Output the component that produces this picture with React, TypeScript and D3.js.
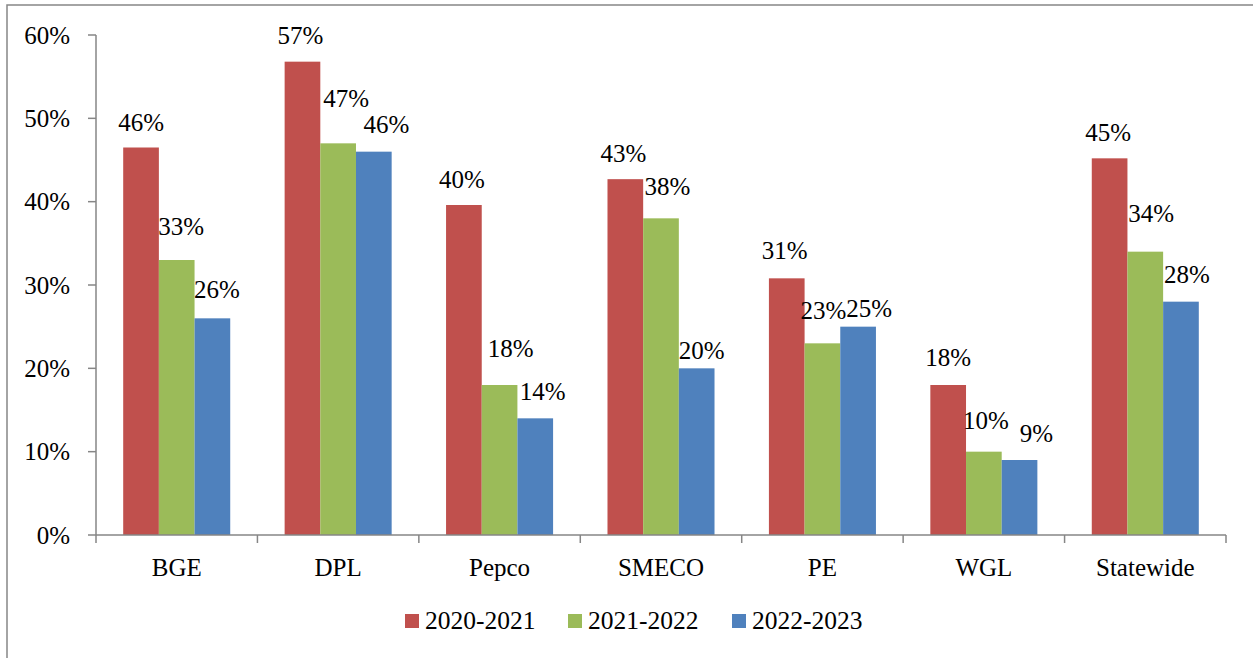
import React from 'react';
import * as d3 from 'd3';

const categories = ['BGE', 'DPL', 'Pepco', 'SMECO', 'PE', 'WGL', 'Statewide'];
const seriesNames = ['2020-2021', '2021-2022', '2022-2023'];
const values2020 = [46.5, 56.8, 39.6, 42.7, 30.8, 18, 45.2];
const values2021 = [33, 47, 18, 38, 23, 10, 34];
const values2022 = [26, 46, 14, 20, 25, 9, 28];
const labels2020 = ['46%', '57%', '40%', '43%', '31%', '18%', '45%'];
const labels2021 = ['33%', '47%', '18%', '38%', '23%', '10%', '34%'];
const labels2022 = ['26%', '46%', '14%', '20%', '25%', '9%', '28%'];
const yTicks = [0, 10, 20, 30, 40, 50, 60];

const colors = ['#C0504D', '#9BBB59', '#4F81BD'];
const font = '"Liberation Serif", "Times New Roman", serif';
const axisColor = '#868686';
const fs = 25;

// hand-placed label nudges (as in the source document), per series per category
const labelDx = [
  [0, -2, -2, -2, -2, 0, -1.5],
  [4.5, 8, 11, 6.5, 1, 2, 6],
  [4.5, 12.5, 7.5, 5, 11, 17, 6],
];
const labelGap = [
  [17, 18, 17, 17, 19, 19, 17],
  [25, 36, 28, 23, 24, 23, 30],
  [20, 19, 18, 9, 10, 18, 19],
];

const App = () => {
  const width = 1253;
  const height = 658;
  const left = 96;
  const right = 1226;
  const top = 35;
  const bottom = 535;

  const allValues = [values2020, values2021, values2022];
  const allLabels = [labels2020, labels2021, labels2022];

  const x0 = d3.scaleBand().domain(categories).range([left, right]).paddingInner(0.337).paddingOuter(0.1685);
  const x1 = d3.scaleBand().domain(seriesNames).range([0, x0.bandwidth()]);
  const y = d3.scaleLinear().domain([0, 60]).range([bottom, top]);

  const step = x0.step();
  const boundaries = d3.range(categories.length + 1).map((i) => left + i * step);

  const legendX = [405, 568, 732];

  return (
    <svg
      width={width}
      height={height}
      style={{ position: 'fixed', left: 0, top: 0, background: '#fff' }}
      fontFamily={font}
    >
      <rect x={7} y={5} width={1270} height={680} fill="#fff" stroke={axisColor} strokeWidth={1.5} />

      {/* bars */}
      {categories.map((c, ci) => (
        <g key={c} transform={`translate(${x0(c)},0)`}>
          {seriesNames.map((s, si) => (
            <rect
              key={s}
              x={x1(s)}
              y={y(allValues[si][ci])}
              width={x1.bandwidth()}
              height={bottom - y(allValues[si][ci])}
              fill={colors[si]}
            />
          ))}
          {seriesNames.map((s, si) => (
            <text
              key={s + 'l'}
              x={(x1(s) as number) + x1.bandwidth() / 2 + labelDx[si][ci]}
              y={y(allValues[si][ci]) - labelGap[si][ci]}
              textAnchor="middle"
              fontSize={fs}
              fill="#000"
            >
              {allLabels[si][ci]}
            </text>
          ))}
        </g>
      ))}

      {/* y axis */}
      <line x1={left} x2={left} y1={top} y2={bottom} stroke={axisColor} strokeWidth={1.5} />
      {yTicks.map((t) => (
        <g key={t}>
          <line x1={88} x2={left} y1={y(t)} y2={y(t)} stroke={axisColor} strokeWidth={1.5} />
          <text x={70} y={y(t) + 8.5} textAnchor="end" fontSize={fs} fill="#000">
            {t + '%'}
          </text>
        </g>
      ))}

      {/* x axis */}
      <line x1={left} x2={right} y1={bottom} y2={bottom} stroke={axisColor} strokeWidth={1.5} />
      {boundaries.map((b, i) => (
        <line key={i} x1={b} x2={b} y1={bottom} y2={bottom + 8} stroke={axisColor} strokeWidth={1.5} />
      ))}
      {categories.map((c) => (
        <text key={c} x={(x0(c) as number) + x0.bandwidth() / 2} y={576} textAnchor="middle" fontSize={fs} fill="#000">
          {c}
        </text>
      ))}

      {/* legend */}
      {seriesNames.map((s, i) => (
        <g key={s}>
          <rect x={legendX[i]} y={614} width={14} height={14} fill={colors[i]} />
          <text x={legendX[i] + 20} y={629} fontSize={25.5} fill="#000">
            {s}
          </text>
        </g>
      ))}
    </svg>
  );
};

export default App;
